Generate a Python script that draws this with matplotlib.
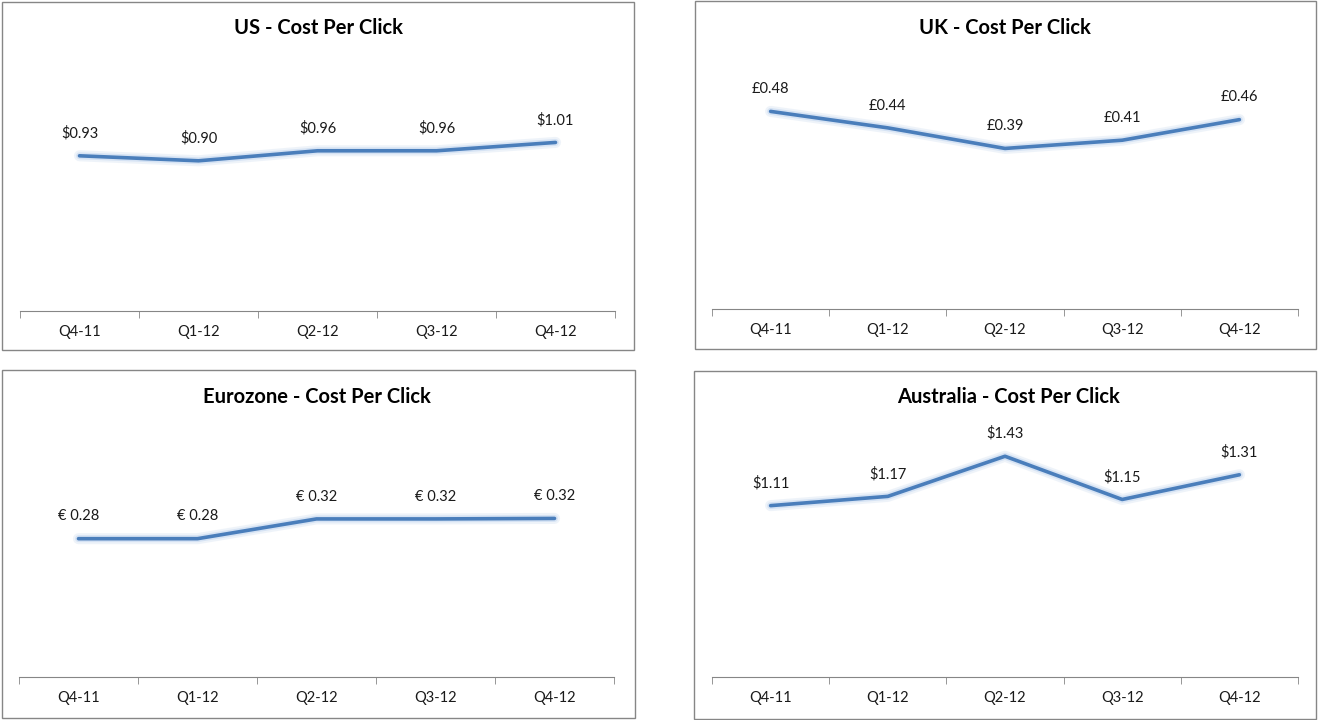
import matplotlib.pyplot as plt
import matplotlib.patheffects as pe
from matplotlib.patches import Rectangle
import numpy as np

plt.rcParams['font.family'] = ['Lato', 'DejaVu Sans']

quarters = ['Q4-11', 'Q1-12', 'Q2-12', 'Q3-12', 'Q4-12']

us_cpc = [0.93, 0.90, 0.96, 0.96, 1.01]
uk_cpc = [0.48, 0.44, 0.39, 0.41, 0.46]
eu_cpc = [0.28, 0.28, 0.32, 0.32, 0.321]
au_cpc = [1.11, 1.17, 1.43, 1.15, 1.31]

W, H = 1327, 720
fig = plt.figure(figsize=(W / 100, H / 100), dpi=100)

line_color = '#4A7EBB'
axis_color = '#868686'

# (title, values, label prefix, box (x0, y0, x1, y1), axis (left, right, bottom_y), ymax, title center)
panels = [
    ('US - Cost Per Click', us_cpc, '$', (2, 2, 634, 350), (20, 615, 311), 1.48, (318, 28)),
    ('UK - Cost Per Click', uk_cpc, '£', (695, 1, 1316, 349), (712, 1298, 309), 0.6, (1005, 28)),
    ('Eurozone - Cost Per Click', eu_cpc, '€ ', (2, 370, 635, 718), (19, 614, 677), 0.5, (317, 397)),
    ('Australia - Cost Per Click', au_cpc, '$', (694, 371, 1316, 719), (712, 1298, 677), 1.6, (1009, 397)),
]

plot_h = 247

for title, vals, prefix, box, axpos, ymax, tpos in panels:
    x0, y0, x1, y1 = box
    fig.patches.append(Rectangle((x0 / W, 1 - y1 / H), (x1 - x0) / W, (y1 - y0) / H,
                                 transform=fig.transFigure, fill=False,
                                 edgecolor=axis_color, linewidth=1))
    left, right, by = axpos
    ax = fig.add_axes([left / W, 1 - by / H, (right - left) / W, plot_h / H])
    ax.set_facecolor('none')
    x = np.arange(len(quarters))
    ax.plot(x, vals, color=line_color, linewidth=2.6, solid_capstyle='round',
            path_effects=[pe.Stroke(linewidth=8, foreground='#E4ECF6', alpha=0.6),
                          pe.Stroke(linewidth=5, foreground='#C6D9F1', alpha=0.6),
                          pe.Normal()])
    for xi, v in zip(x, vals):
        ax.annotate(f'{prefix}{v:.2f}', (xi, v), xytext=(0, 11), textcoords='offset points',
                    ha='center', va='bottom', fontsize=10.5, color='#1a1a1a')
    ax.set_xlim(-0.5, len(quarters) - 0.5)
    ax.set_ylim(0, ymax)
    ax.set_yticks([])
    for s in ['top', 'right', 'left']:
        ax.spines[s].set_visible(False)
    ax.spines['bottom'].set_color(axis_color)
    ax.set_xticks(x)
    ax.set_xticklabels(quarters, fontsize=10.5, color='#1a1a1a')
    ax.set_xticks(np.arange(-0.5, len(quarters)), minor=True)
    ax.tick_params(axis='x', which='major', length=0, pad=10)
    ax.tick_params(axis='x', which='minor', length=5, color=axis_color)
    fig.text(tpos[0] / W, 1 - tpos[1] / H, title, ha='center', va='center',
             fontsize=14.5, fontweight='bold', color='#000000')

fig.savefig('out.png', dpi=100)
